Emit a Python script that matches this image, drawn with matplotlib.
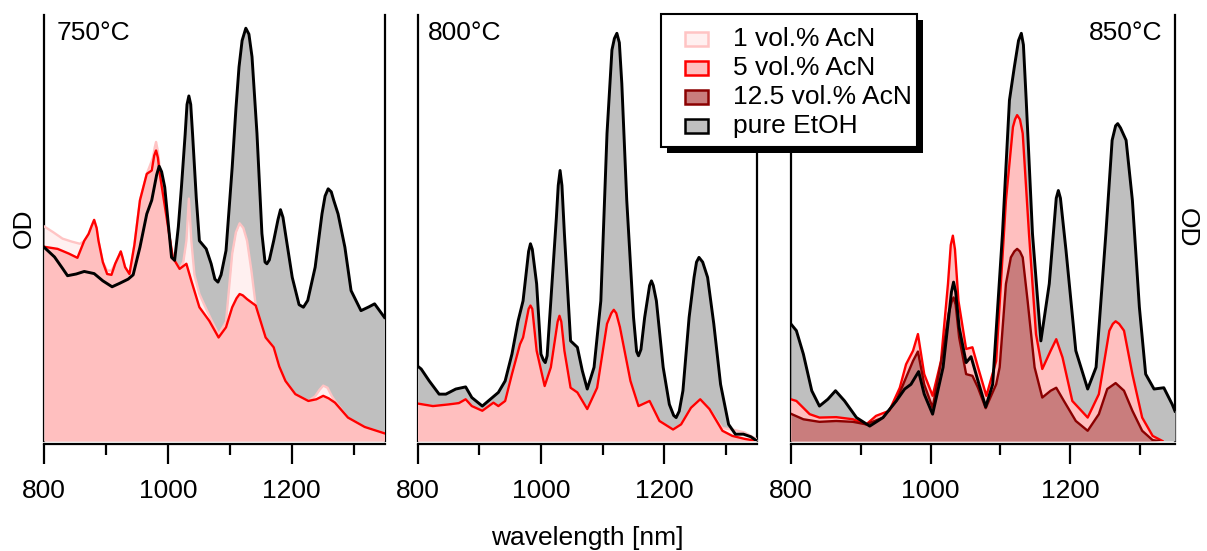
import numpy as np
import matplotlib
matplotlib.use("Agg")
import matplotlib.pyplot as plt
from matplotlib.patches import Rectangle
from matplotlib.ticker import MultipleLocator

plt.rcParams['font.family'] = ['Liberation Sans', 'DejaVu Sans']

# ---- data (wavelength in nm, OD normalised per panel) ----
# 750 C
wl_750_etoh = [800, 817, 830, 838, 852, 865, 881, 895, 910, 922, 936, 944, 955, 966, 974, 982, 986,
               990, 995, 1006, 1011, 1017, 1022, 1028, 1031, 1034, 1037, 1040, 1046, 1051, 1062, 1070,
               1076, 1081, 1086, 1094, 1104, 1110, 1115, 1120, 1126, 1131, 1136, 1144, 1152, 1157,
               1160, 1164, 1171, 1178, 1182, 1186, 1190, 1201, 1212, 1219, 1226, 1238, 1249, 1254,
               1259, 1264, 1268, 1275, 1286, 1296, 1312, 1325, 1334, 1345, 1350]
od_750_etoh = [.455, .432, .405, .388, .392, .398, .393, .376, .362, .37, .38, .39, .455, .533, .565, .625, .645,
               .632, .596, .431, .424, .503, .596, .72, .79, .81, .79, .72, .57, .47, .451, .416,
               .38, .373, .39, .447, .643, .78, .878, .94, .969, .955, .902, .722, .487, .42,
               .416, .425, .47, .52, .543, .525, .487, .384, .32, .314, .33, .408, .533, .575,
               .592, .585, .565, .533, .455, .353, .306, .315, .322, .30, .29]

wl_750_5 = [800, 822, 840, 854, 865, 872, 877, 881, 885, 888, 895, 902, 909, 915, 921, 924, 927, 931,
            938, 946, 955, 966, 974, 978, 981, 984, 987, 998, 1008, 1019, 1030, 1038, 1051, 1067,
            1082, 1094, 1104, 1111, 1116, 1121, 1128, 1142, 1158, 1171, 1180, 1190, 1206, 1227,
            1240, 1251, 1260, 1270, 1291, 1318, 1335, 1350]
od_750_5 = [.456, .451, .44, .43, .47, .486, .505, .519, .50, .47, .42, .392, .39, .416, .435, .445, .43, .408,
            .392, .46, .565, .627, .635, .67, .682, .665, .627, .525, .431, .404, .416, .376, .314, .282,
            .243, .267, .314, .335, .345, .342, .333, .318, .243, .22, .175, .141, .11, .094,
            .098, .106, .10, .09, .055, .033, .025, .018]

wl_750_1 = [800, 815, 830, 845, 858, 866, 872, 877, 881, 885, 888, 895, 902, 909, 915, 921, 924, 927,
            931, 938, 946, 955, 966, 976, 979, 981, 984, 987, 998, 1008, 1019, 1025, 1030, 1034,
            1038, 1043, 1051, 1062, 1070, 1082, 1094, 1104, 1110, 1116, 1122, 1128, 1135, 1142,
            1158, 1171, 1180, 1190, 1206, 1227, 1238, 1245, 1251, 1258, 1265, 1272, 1291, 1318,
            1335, 1350]
od_750_1 = [.504, .49, .475, .468, .463, .47, .486, .505, .519, .50, .47, .42, .40, .40, .416, .435, .445, .43,
            .408, .392, .46, .565, .627, .665, .69, .702, .68, .64, .525, .431, .404, .42, .47, .569,
            .47, .39, .345, .31, .285, .25, .28, .44, .49, .511, .50, .47, .40, .318,
            .243, .22, .175, .141, .11, .094, .105, .12, .13, .125, .105, .09, .055, .033,
            .025, .018]

# 800 C
wl_800_etoh = [800, 806, 819, 835, 846, 862, 878, 888, 905, 918, 931, 942, 953, 963, 971, 980, 983, 986,
               993, 1000, 1004, 1007, 1010, 1016, 1025, 1028, 1031, 1034, 1038, 1048, 1059, 1067,
               1075, 1086, 1097, 1107, 1115, 1119, 1123, 1127, 1131, 1139, 1150, 1155, 1158, 1162,
               1168, 1176, 1179, 1182, 1187, 1198, 1208, 1215, 1219, 1224, 1230, 1240, 1248, 1252,
               1256, 1262, 1270, 1280, 1291, 1304, 1315, 1328, 1340, 1350]
od_800_etoh = [.176, .169, .141, .11, .11, .122, .127, .102, .082, .098, .114, .141, .204, .282, .329, .445, .463, .45,
               .369, .204, .19, .184, .20, .329, .525, .60, .635, .60, .486, .235, .22, .165,
               .122, .173, .329, .722, .918, .945, .957, .935, .839, .565, .29, .21, .20, .215,
               .29, .365, .376, .365, .329, .173, .086, .06, .055, .07, .118, .29, .384, .42,
               .431, .42, .384, .275, .133, .039, .016, .016, .01, 0.0]

wl_800_5 = [800, 825, 851, 867, 878, 888, 905, 923, 931, 942, 953, 966, 971, 980, 983, 986, 993, 1006,
            1016, 1027, 1030, 1033, 1038, 1048, 1059, 1075, 1091, 1107, 1114, 1118, 1122, 1128,
            1145, 1158, 1176, 1192, 1214, 1227, 1243, 1258, 1273, 1294, 1310, 1330, 1350]
od_800_5 = [.088, .082, .086, .089, .098, .082, .071, .09, .082, .094, .157, .227, .243, .31, .318, .31, .212, .129,
            .173, .28, .294, .28, .212, .125, .114, .075, .125, .275, .30, .308, .30, .267,
            .141, .082, .094, .047, .027, .039, .078, .098, .075, .024, .012, .005, 0.0]

wl_800_1 = wl_800_5
od_800_1 = od_800_5[:-4] + [.03, .027, .02, .004]

# 850 C
wl_850_etoh = [800, 808, 818, 830, 841, 853, 864, 877, 894, 913, 932, 951, 963, 972, 983, 991, 1003,
               1018, 1026, 1030, 1033, 1036, 1041, 1051, 1058, 1068, 1079, 1089, 1103, 1113, 1120,
               1126, 1130, 1133, 1137, 1146, 1158, 1170, 1180, 1183, 1186, 1194, 1208, 1225, 1237,
               1251, 1260, 1265, 1268, 1272, 1280, 1289, 1299, 1308, 1320, 1334, 1346, 1350]
od_850_etoh = [.275, .259, .204, .118, .082, .098, .118, .094, .055, .035, .055, .094, .122, .133, .163, .11, .063,
               .173, .29, .35, .373, .35, .267, .184, .198, .141, .08, .133, .486, .80, .878,
               .94, .957, .93, .80, .486, .235, .369, .57, .588, .57, .447, .212, .122, .173,
               .486, .706, .74, .745, .735, .706, .565, .314, .157, .122, .125, .086, .07]

wl_850_5 = [800, 808, 827, 841, 865, 889, 908, 922, 941, 956, 965, 975, 982, 991, 1003, 1015, 1025,
            1029, 1032, 1035, 1040, 1051, 1060, 1068, 1080, 1094, 1108, 1118, 1121, 1124, 1128,
            1132, 1141, 1151, 1160, 1172, 1180, 1189, 1203, 1225, 1241, 1256, 1261, 1265, 1270,
            1277, 1289, 1303, 1318, 1332]
od_850_5 = [.098, .094, .063, .055, .056, .051, .039, .059, .071, .125, .18, .212, .251, .157, .106, .188, .369,
            .46, .482, .45, .329, .216, .22, .173, .106, .188, .565, .737, .755, .765, .755,
            .722, .486, .251, .169, .212, .239, .196, .094, .055, .11, .259, .275, .281, .275,
            .259, .157, .055, .012, 0.0]

wl_850_12 = [800, 818, 841, 865, 889, 908, 932, 951, 965, 975, 982, 991, 1003, 1018, 1026, 1030, 1033,
             1036, 1041, 1051, 1060, 1068, 1079, 1094, 1099, 1108, 1115, 1120, 1124, 1128, 1132,
             1139, 1149, 1160, 1172, 1180, 1191, 1208, 1225, 1241, 1253, 1265, 1277, 1289, 1303,
             1318, 1327]
od_850_12 = [.064, .051, .045, .047, .045, .039, .055, .094, .149, .188, .21, .133, .078, .212, .299, .325, .337,
             .32, .243, .157, .153, .125, .077, .133, .173, .369, .431, .445, .451, .445, .431,
             .329, .173, .102, .118, .125, .094, .047, .024, .063, .122, .136, .118, .071, .024,
             .002, 0.0]

temps = ['750°C', '800°C', '850°C']
legend_labels = ['1 vol.% AcN', '5 vol.% AcN', '12.5 vol.% AcN', 'pure EtOH']
fill_colors = ['#fff0f0', '#ffbfbf', '#c97d7d', '#bfbfbf']
line_colors = ['#ffc4c4', '#ff0000', '#8b0000', '#000000']

# series per panel: (legend index, wavelengths, od)
panels = [
    [(3, wl_750_etoh, od_750_etoh), (0, wl_750_1, od_750_1), (1, wl_750_5, od_750_5)],
    [(3, wl_800_etoh, od_800_etoh), (0, wl_800_1, od_800_1), (1, wl_800_5, od_800_5)],
    [(3, wl_850_etoh, od_850_etoh), (1, wl_850_5, od_850_5), (2, wl_850_12, od_850_12)],
]

W, H = 1207, 551
FS = 19
fig = plt.figure(figsize=(W / 100, H / 100), dpi=100)

# axes boxes in pixels: left, right
boxes = [(44, 384.5), (417.5, 757), (790.8, 1175)]
top_px, bot_px = 15, 441

for i, (series, (x0, x1)) in enumerate(zip(panels, boxes)):
    ax = fig.add_axes([x0 / W, 1 - bot_px / H, (x1 - x0) / W, (bot_px - top_px) / H])
    ax.patch.set_alpha(0)
    for k, wl, od in series:
        ax.fill_between(wl, 0, od, color=fill_colors[k], lw=0, zorder=3)
    for k, wl, od in series:
        lw = 2.1 if k == 3 else 1.7
        ax.plot(wl, od, color=line_colors[k], lw=lw, zorder=5 if k == 3 else 4,
                solid_joinstyle='round')
    ax.set_xlim(800, 1350)
    ax.set_ylim(0, 1)
    ax.set_yticks([])
    ax.spines['top'].set_visible(False)
    for s in ['left', 'right', 'bottom']:
        ax.spines[s].set_linewidth(1.6)
    ax.spines['bottom'].set_position(('outward', 2.5))
    ax.xaxis.set_major_locator(MultipleLocator(200))
    ax.xaxis.set_minor_locator(MultipleLocator(100))
    ax.tick_params(axis='x', which='major', length=14.5, width=1.6, labelsize=FS, pad=10)
    ax.tick_params(axis='x', which='minor', length=8, width=1.6)
    if i == 0:
        ax.set_ylabel('OD', fontsize=FS, labelpad=6)
    if i == 2:
        ax.yaxis.set_label_position('right')
        ax.set_ylabel('OD', fontsize=FS, rotation=270, labelpad=17)
        ax.text(0.966, 0.985, temps[i], transform=ax.transAxes, ha='right', va='top', fontsize=FS)
    else:
        ax.text(0.036 if i == 0 else 0.03, 0.985, temps[i], transform=ax.transAxes,
                ha='left', va='top', fontsize=FS)

fig.text(587 / W, 1 - 526 / H, 'wavelength [nm]', ha='center', va='top', fontsize=FS)

# legend with black drop shadow, drawn on top of the panels
lx0, lx1, ly0, ly1 = 661, 917, 14, 147
fig.add_artist(Rectangle(((lx0 + 6) / W, 1 - (ly1 + 6) / H), (lx1 - lx0) / W, (ly1 - ly0) / H,
                         transform=fig.transFigure, facecolor='black', lw=0, zorder=10))
fig.add_artist(Rectangle((lx0 / W, 1 - ly1 / H), (lx1 - lx0) / W, (ly1 - ly0) / H,
                         transform=fig.transFigure, facecolor='white', edgecolor='black',
                         lw=1.5, zorder=11))
rows = [39, 68, 97, 126]
for k, yrow in enumerate(rows):
    fig.add_artist(Rectangle((685 / W, 1 - (yrow + 7) / H), 23 / W, 14 / H,
                             transform=fig.transFigure, facecolor=fill_colors[k],
                             edgecolor=line_colors[k], lw=1.8, zorder=12))
    fig.text(733 / W, 1 - yrow / H, legend_labels[k], ha='left', va='center',
             fontsize=FS, zorder=12)

fig.savefig('out.png', dpi=100)
